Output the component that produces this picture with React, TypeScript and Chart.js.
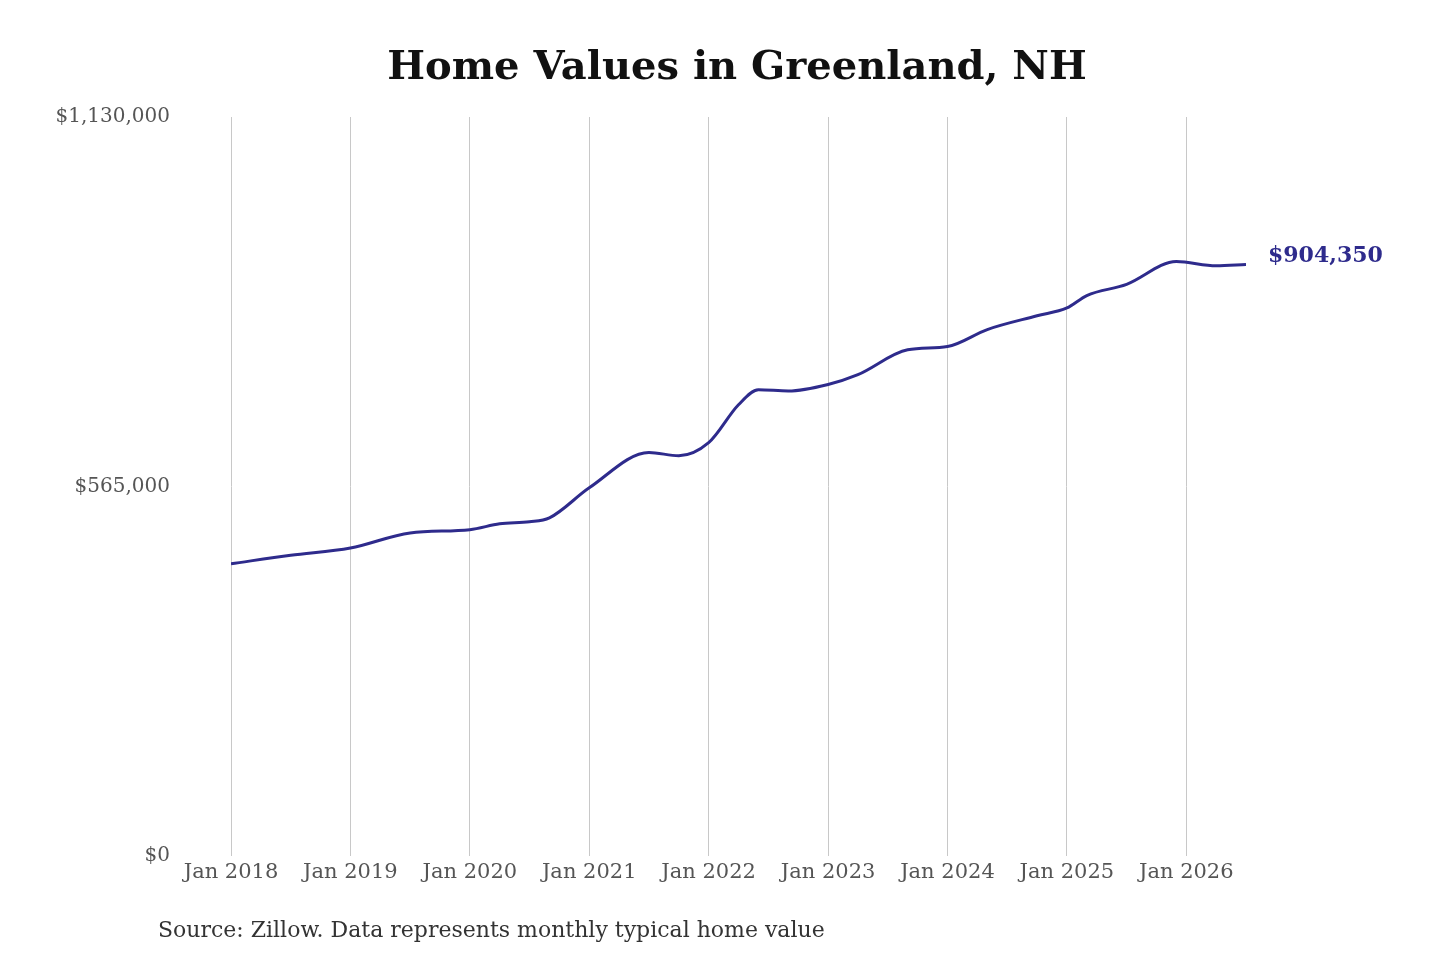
import React, { useEffect, useRef } from "react";
import { Chart, registerables } from "chart.js";
Chart.register(...registerables);

// months since Jan 2018
const monthIndex = [0, 6, 12, 18, 24, 27, 30, 32, 36, 42, 45, 48, 51, 53, 56, 60, 63, 68, 72, 76, 81, 84, 86, 90, 95, 99, 102];
const homeValues = [446800, 460000, 471000, 494000, 499000, 508000, 511000, 517000, 563000, 617000, 612000, 632000, 690000, 713000, 711000, 721000, 736000, 774000, 779000, 805000, 826000, 838000, 857000, 874000, 909000, 902500, 904350];
const yearLabels = ["Jan 2018", "Jan 2019", "Jan 2020", "Jan 2021", "Jan 2022", "Jan 2023", "Jan 2024", "Jan 2025", "Jan 2026"];
const yTicks = [0, 565000, 1130000];
const LINE = "#2e2b8c";
const FONT = "'DejaVu Serif', serif";

export default function App() {
  const ref = useRef<HTMLCanvasElement>(null);
  useEffect(() => {
    const deco = {
      id: "deco",
      afterDraw(c: any) {
        const ctx = c.ctx;
        ctx.save();
        ctx.fillStyle = "#111";
        ctx.font = `bold 40px ${FONT}`;
        ctx.textAlign = "center";
        ctx.textBaseline = "middle";
        ctx.fillText("Home Values in Greenland, NH", 737, 69);
        ctx.font = `22px ${FONT}`;
        ctx.textAlign = "left";
        ctx.fillStyle = "#333";
        ctx.fillText("Source: Zillow. Data represents monthly typical home value", 158, 931);
        const n = homeValues.length - 1;
        const x = c.scales.x.getPixelForValue(monthIndex[n]);
        const y = c.scales.y.getPixelForValue(homeValues[n]);
        ctx.fillStyle = LINE;
        ctx.font = `bold 22px ${FONT}`;
        ctx.fillText("$" + homeValues[n].toLocaleString("en-US"), x + 22, y - 8);
        ctx.restore();
      },
    };
    const chart = new Chart(ref.current!, {
      type: "line",
      data: {
        datasets: [{
          data: monthIndex.map((m, i) => ({ x: m, y: homeValues[i] })),
          borderColor: LINE, borderWidth: 3, pointRadius: 0, tension: 0.4, cubicInterpolationMode: "monotone",
        }],
      },
      options: {
        animation: false, responsive: false, devicePixelRatio: 1,
        layout: { padding: { top: 117, right: 194, bottom: 72, left: 0 } },
        plugins: { legend: { display: false }, tooltip: { enabled: false } },
        scales: {
          x: {
            type: "linear", min: 0, max: 102,
            afterBuildTicks: (s: any) => { s.ticks = yearLabels.map((_, i) => ({ value: i * 12 })); },
            afterFit: (s: any) => { s.height = 32; },
            ticks: { callback: (v: any) => yearLabels[v / 12] ?? "", color: "#555", font: { family: FONT, size: 21 }, maxRotation: 0, autoSkip: false, padding: 4 },
            grid: { color: "#c8c8c8", lineWidth: 1, drawTicks: false },
            border: { display: false },
          },
          y: {
            min: 0, max: 1130000,
            afterBuildTicks: (s: any) => { s.ticks = yTicks.map((v) => ({ value: v })); },
            afterFit: (s: any) => { s.width = 231; },
            ticks: { callback: (v: any) => "$" + Number(v).toLocaleString("en-US"), color: "#555", font: { family: FONT, size: 20 }, padding: 53 },
            grid: { display: false },
            border: { display: false },
          },
        },
      },
      plugins: [deco],
    } as any);
    return () => chart.destroy();
  }, []);
  return (
    <div style={{ position: "absolute", left: 0, top: 0, width: 1440, height: 960, background: "#fff" }}>
      <canvas ref={ref} width={1440} height={960} />
    </div>
  );
}
